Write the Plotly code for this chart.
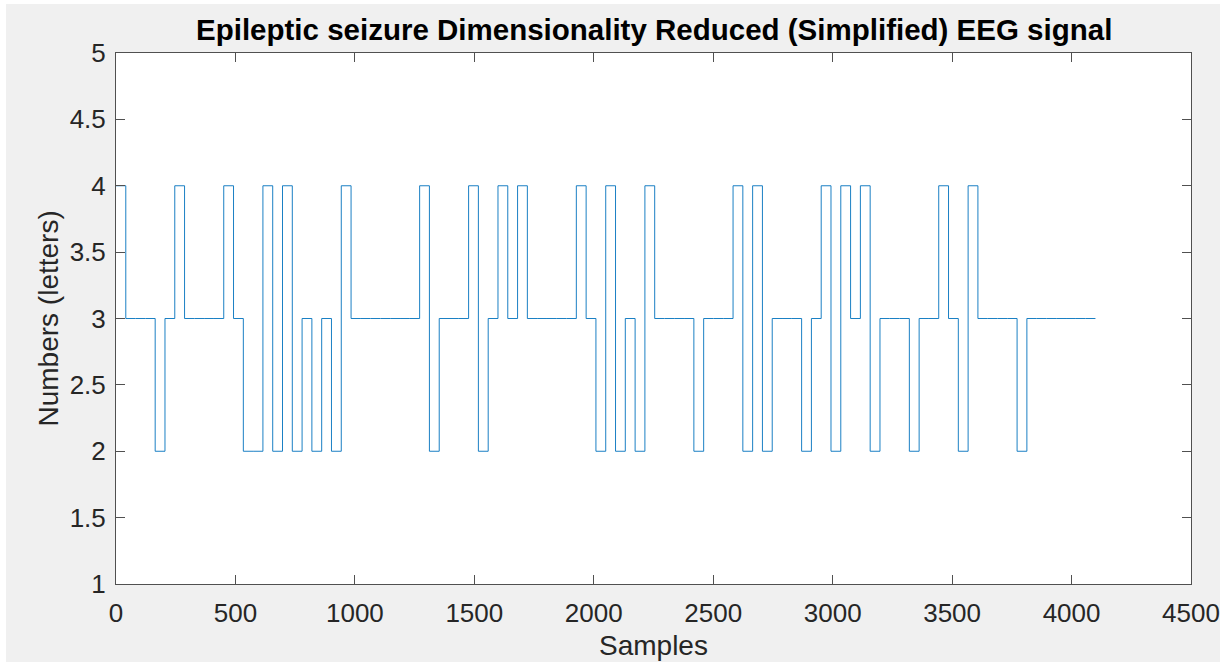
import numpy as np
import plotly.graph_objects as go

# Symbol level of each 41-sample window of the reduced EEG signal
window = 41
levels = [
    4, 3, 3, 3, 2, 3, 4, 3, 3, 3,
    3, 4, 3, 2, 2, 4, 2, 4, 2, 3,
    2, 3, 2, 4, 3, 3, 3, 3, 3, 3,
    3, 4, 2, 3, 3, 3, 4, 2, 3, 4,
    3, 4, 3, 3, 3, 3, 3, 4, 3, 2,
    4, 2, 3, 2, 4, 3, 3, 3, 3, 2,
    3, 3, 3, 4, 2, 4, 2, 3, 3, 3,
    2, 3, 4, 2, 4, 3, 4, 2, 3, 3,
    3, 2, 3, 3, 4, 3, 2, 4, 3, 3,
    3, 3, 2, 3, 3, 3, 3, 3, 3, 3,
]

x_ticks = [0, 500, 1000, 1500, 2000, 2500, 3000, 3500, 4000, 4500]
y_ticks = [1, 1.5, 2, 2.5, 3, 3.5, 4, 4.5, 5]
y_tick_text = ["1", "1.5", "2", "2.5", "3", "3.5", "4", "4.5", "5"]

# step edges: start of each window, plus the end of the last one
x_edges = np.arange(len(levels) + 1) * window
y_steps = levels + [levels[-1]]

FONT = "Liberation Sans, Arial, Helvetica, sans-serif"
TXT = "#262626"
AX = "#505050"

fig = go.Figure()
fig.add_trace(go.Scatter(
    x=x_edges, y=y_steps, mode="lines", line_shape="hv",
    line=dict(color="#0072BD", width=0.9), showlegend=False,
))

axis_common = dict(
    showgrid=False, zeroline=False, showline=True, linecolor=AX, linewidth=1,
    mirror="ticks", ticks="inside", ticklen=9, tickcolor=AX, tickwidth=1,
    tickfont=dict(family=FONT, size=26, color=TXT),
)
fig.update_xaxes(range=[0, 4500], tickvals=x_ticks, ticktext=[str(v) for v in x_ticks],
                 ticklabelstandoff=6, **axis_common)
fig.update_yaxes(range=[1, 5], tickvals=y_ticks, ticktext=y_tick_text,
                 ticklabelstandoff=4, **axis_common)

fig.update_layout(
    width=1231, height=662,
    margin=dict(l=116, r=40, t=53, b=78, pad=0),
    paper_bgcolor="white", plot_bgcolor="white",
    shapes=[
        dict(type="rect", xref="paper", yref="paper", layer="below",
             x0=(6 - 116) / 1075, x1=(1220 - 116) / 1075,
             y0=(584 - 662) / 531, y1=(584 - 4) / 531,
             fillcolor="#f0f0f0", line=dict(width=0)),
        dict(type="rect", xref="paper", yref="paper", layer="below",
             x0=0, x1=1, y0=0, y1=1, fillcolor="white", line=dict(width=0)),
    ],
    annotations=[
        dict(text="<b>Epileptic seizure Dimensionality Reduced (Simplified) EEG signal</b>",
             xref="paper", yref="paper", x=0.5, y=(584 - 30) / 531,
             xanchor="center", yanchor="middle", showarrow=False,
             font=dict(family=FONT, size=29.5, color="black")),
        dict(text="Samples", xref="paper", yref="paper", x=0.5, y=(584 - 645) / 531,
             xanchor="center", yanchor="middle", showarrow=False,
             font=dict(family=FONT, size=28, color=TXT)),
        dict(text="Numbers (letters)", xref="paper", yref="paper",
             x=(48 - 116) / 1075, y=0.5, textangle=-90,
             xanchor="center", yanchor="middle", showarrow=False,
             font=dict(family=FONT, size=28, color=TXT)),
    ],
)

fig.write_html("out.html")
